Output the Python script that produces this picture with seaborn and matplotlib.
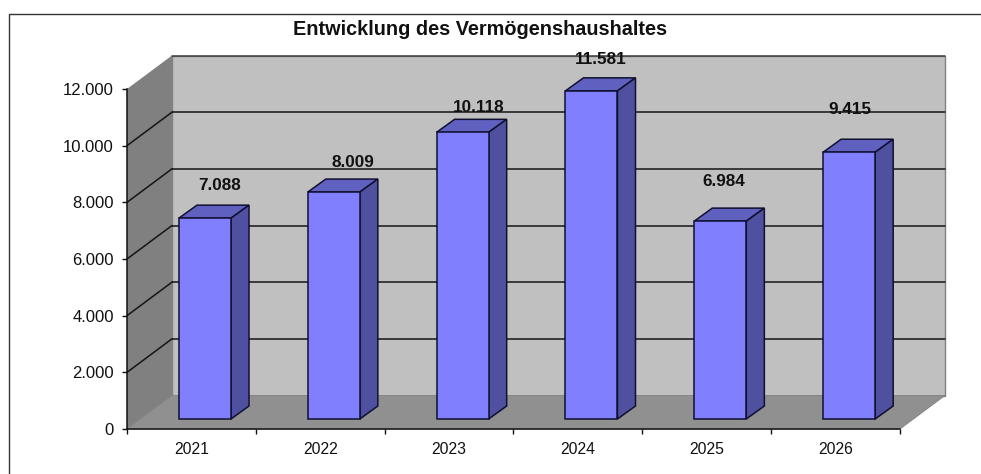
import matplotlib
matplotlib.use("Agg")
import matplotlib.pyplot as plt
from matplotlib.lines import Line2D
import pandas as pd
import seaborn as sns

years = ["2021", "2022", "2023", "2024", "2025", "2026"]
values = [7088, 8009, 10118, 11581, 6984, 9415]
value_labels = ["7.088", "8.009", "10.118", "11.581", "6.984", "9.415"]
y_ticks = [0, 2000, 4000, 6000, 8000, 10000, 12000]
y_tick_labels = ["0", "2.000", "4.000", "6.000", "8.000", "10.000", "12.000"]

# where excel put each data label, pixels from the top centre of the bar
label_dx = [15, 19, 16, 9, 3, 1]
label_dy = [33, 30, 25, 31, 40, 43]

# fake 3d depth, in axis units
wall_dx = 0.349
wall_dy = 1182
bar_dx = 0.14
bar_dy = 459
bar_shift = 0.105
bar_bottom = 353
bar_width = 0.404

sns.set_theme(style="white")
plt.rcParams["font.family"] = ["Liberation Sans", "DejaVu Sans"]

df = pd.DataFrame({"year": years, "value": values})

fig = plt.figure(figsize=(9.81, 4.74), dpi=100)
ax = fig.add_axes([127 / 981, (474 - 429) / 474, 773 / 981, 340 / 474])
ax.patch.set_alpha(0)

sns.barplot(data=df, x="year", y="value", ax=ax, color="#8080FF", saturation=1,
            width=bar_width, bottom=bar_bottom, edgecolor="#101030", linewidth=1.1,
            zorder=4, err_kws={"linewidth": 0})
ax.set_xlim(-0.5, 5.5)
ax.set_ylim(0, 12000)

# walls and floor
x0, x1, top = -0.5, 5.5, 12000
ax.fill([x0 + wall_dx, x1 + wall_dx, x1 + wall_dx, x0 + wall_dx],
        [wall_dy, wall_dy, top + wall_dy, top + wall_dy],
        color="#C0C0C0", ec="#808080", lw=1, clip_on=False, zorder=1)
ax.fill([x0, x0 + wall_dx, x0 + wall_dx, x0], [0, wall_dy, top + wall_dy, top],
        color="#808080", lw=0, clip_on=False, zorder=1.2)
ax.fill([x0, x1, x1 + wall_dx, x0 + wall_dx], [0, 0, wall_dy, wall_dy],
        color="#909090", ec="#808080", lw=0.6, clip_on=False, zorder=1.1)

# gridlines run up the side wall and along the back
for t in y_ticks[1:]:
    grid_color = "#404040" if t == top else "#151515"
    ax.plot([x0 + wall_dx, x1 + wall_dx], [t + wall_dy, t + wall_dy],
            color=grid_color, lw=1.1, clip_on=False, zorder=2)
    if t < top:
        ax.plot([x0, x0 + wall_dx], [t, t + wall_dy],
                color=grid_color, lw=1.1, clip_on=False, zorder=2)

# shift bars back onto the floor, then add top and side faces
for i, bar in enumerate(ax.containers[0]):
    bar.set_x(bar.get_x() + bar_shift)
    left = bar.get_x()
    right = left + bar.get_width()
    y_top = values[i] + bar_bottom
    ax.fill([left, right, right + bar_dx, left + bar_dx],
            [y_top, y_top, y_top + bar_dy, y_top + bar_dy],
            fc="#6060C0", ec="#101030", lw=1.1, clip_on=False, zorder=3.5)
    ax.fill([right, right + bar_dx, right + bar_dx, right],
            [bar_bottom, bar_bottom + bar_dy, y_top + bar_dy, y_top],
            fc="#5050A0", ec="#101030", lw=1.1, clip_on=False, zorder=3.5)
    ax.annotate(value_labels[i], xy=(i + bar_shift, y_top),
                xytext=(label_dx[i], label_dy[i]), textcoords="offset pixels",
                ha="center", va="center", fontsize=12.3, fontweight="bold",
                color="#111111", annotation_clip=False, zorder=6)

sns.despine(ax=ax)
for side in ["left", "bottom"]:
    ax.spines[side].set_color("#111111")
    ax.spines[side].set_linewidth(1.1)
    ax.spines[side].set_zorder(5)

ax.set_xlabel("")
ax.set_ylabel("")
ax.set_yticks(y_ticks, y_tick_labels)
ax.set_xticks([i - 0.5 for i in range(7)], [""] * 7)
ax.set_xticks(range(6), years, minor=True)
ax.tick_params(axis="y", which="major", left=True, length=3.5, width=1, color="#111111",
               labelsize=12, labelcolor="#111111", pad=6)
ax.tick_params(axis="x", which="major", bottom=True, length=3.5, width=1, color="#111111")
ax.tick_params(axis="x", which="minor", bottom=False, length=0, labelsize=11.3,
               labelcolor="#111111", pad=9)

fig.text(480 / 981, 1 - 29.5 / 474, "Entwicklung des Vermögenshaushaltes", ha="center",
         va="center", fontsize=14.3, fontweight="bold", color="#111111")

# frame around the chart, cut off on the right and at the bottom
fig.add_artist(Line2D([9 / 981, 9 / 981, 1], [0, 1 - 14 / 474, 1 - 14 / 474],
                      color="#333333", lw=1))

fig.savefig("out.png", dpi=100)
